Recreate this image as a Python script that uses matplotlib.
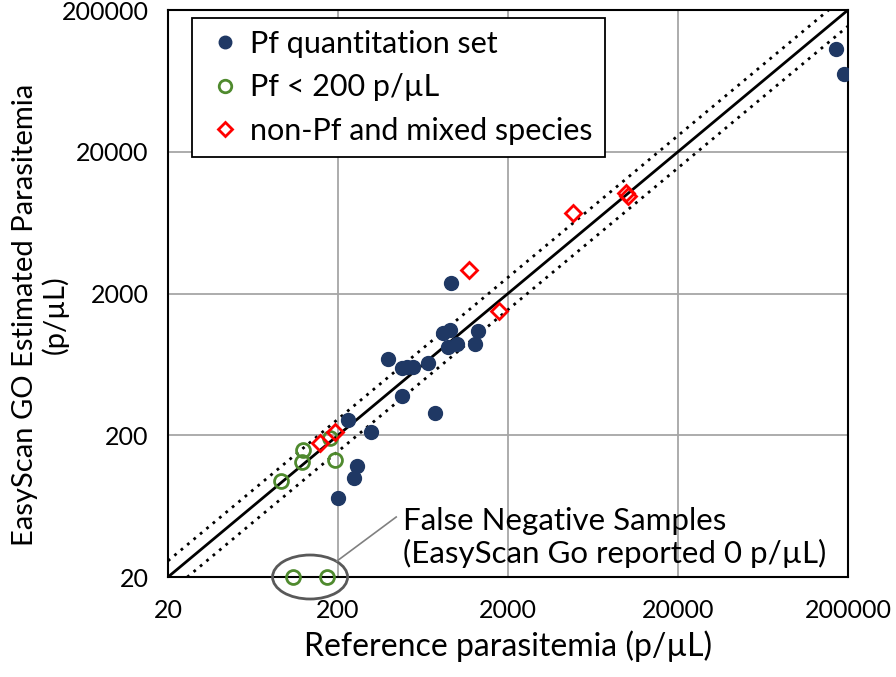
import matplotlib.pyplot as plt
from matplotlib.patches import Ellipse
from matplotlib.transforms import ScaledTranslation

plt.rcParams['font.family'] = ['Lato', 'DejaVu Sans']

# Pf quantitation set
pf_ref = [171000, 189000, 928, 830, 912, 887, 1002, 1333, 1280, 394, 476, 512, 556, 676, 476, 745, 228, 313, 259, 248, 200]
pf_est = [106000, 70800, 2366, 1052, 1106, 839, 881, 1087, 881, 690, 596, 606, 606, 647, 378, 287, 258, 210, 121, 100, 72]

# Pf < 200 p/uL
low_ref = [124, 123, 92, 192, 180]
low_est = [157, 129, 95, 134, 191]

# false negatives (reported 0, drawn on the axis)
fn_ref = [109, 172]
fn_est = [20, 20]

# non-Pf and mixed species
mix_ref = [9900, 10100, 4800, 1180, 1770, 157, 192]
mix_est = [10300, 9700, 7400, 2930, 1500, 176, 211]

ticks = [20, 200, 2000, 20000, 200000]
band = 1.3

navy = '#1f3864'
green = '#4f8a2e'

fig = plt.figure(figsize=(8.96, 6.77), dpi=100)
ax = fig.add_axes([0.1875, 0.1477, 0.7589, 0.8375])
ax.set_xscale('log')
ax.set_yscale('log')
ax.set_xlim(20, 200000)
ax.set_ylim(20, 200000)

ax.set_xticks(ticks)
ax.set_yticks(ticks)
ax.set_xticklabels([str(t) for t in ticks])
ax.set_yticklabels([str(t) for t in ticks])
ax.minorticks_off()
ax.tick_params(length=0, labelsize=18)
ax.tick_params(axis='x', pad=16)
ax.tick_params(axis='y', pad=14)
ax.grid(True, color='#a6a6a6', linewidth=1.3)
ax.set_axisbelow(True)
for s in ax.spines.values():
    s.set_linewidth(1.5)

# identity and +/- band
lim = [20, 200000]
ax.plot(lim, lim, color='black', linewidth=2, zorder=2)
ax.plot(lim, [v * band for v in lim], color='black', linestyle=(0, (1, 2)), linewidth=2, zorder=2)
ax.plot(lim, [v / band for v in lim], color='black', linestyle=(0, (1, 2)), linewidth=2, zorder=2)

ax.plot(pf_ref, pf_est, 'o', color=navy, markersize=10, linestyle='none', zorder=3,
        label='Pf quantitation set')
ax.plot(low_ref, low_est, 'o', markerfacecolor='none', markeredgecolor=green, markeredgewidth=2,
        markersize=10, linestyle='none', zorder=4, label='Pf < 200 p/µL')
ax.plot(fn_ref, fn_est, 'o', markerfacecolor='none', markeredgecolor=green, markeredgewidth=2,
        markersize=10, linestyle='none', zorder=4, clip_on=False)
ax.plot(mix_ref, mix_est, 'D', markerfacecolor='none', markeredgecolor='red', markeredgewidth=2,
        markersize=8, linestyle='none', zorder=5, label='non-Pf and mixed species')

leg = ax.legend(loc='upper left', bbox_to_anchor=(0.035, 0.986), fontsize=22, fancybox=False,
                edgecolor='black', framealpha=1, handletextpad=0.1, borderpad=0.4,
                labelspacing=0.5, markerscale=0.9, handlelength=1.4, borderaxespad=0)
leg.get_frame().set_linewidth(1.3)

# ellipse around false negatives
off = ScaledTranslation(137, 20, ax.transData)
ell = Ellipse((0, 0), 0.75, 0.44, transform=fig.dpi_scale_trans + off, fill=False,
              edgecolor='#595959', linewidth=2, clip_on=False, zorder=6)
ax.add_patch(ell)
ax.plot([197, 440], [25.9, 53], color='#808080', linewidth=1.2, zorder=6)
ax.text(480, 62, 'False Negative Samples\n(EasyScan Go reported 0 p/µL)', fontsize=22.5,
        va='top', ha='left', linespacing=1.15)

ax.set_xlabel('Reference parasitemia (p/µL)', fontsize=23, labelpad=6)
fig.text(0.045, 0.535, 'EasyScan GO Estimated Parasitemia\n(p/µL)', fontsize=21,
         rotation=90, ha='center', va='center', multialignment='center', linespacing=1.15)

fig.savefig('out.png', dpi=100)
